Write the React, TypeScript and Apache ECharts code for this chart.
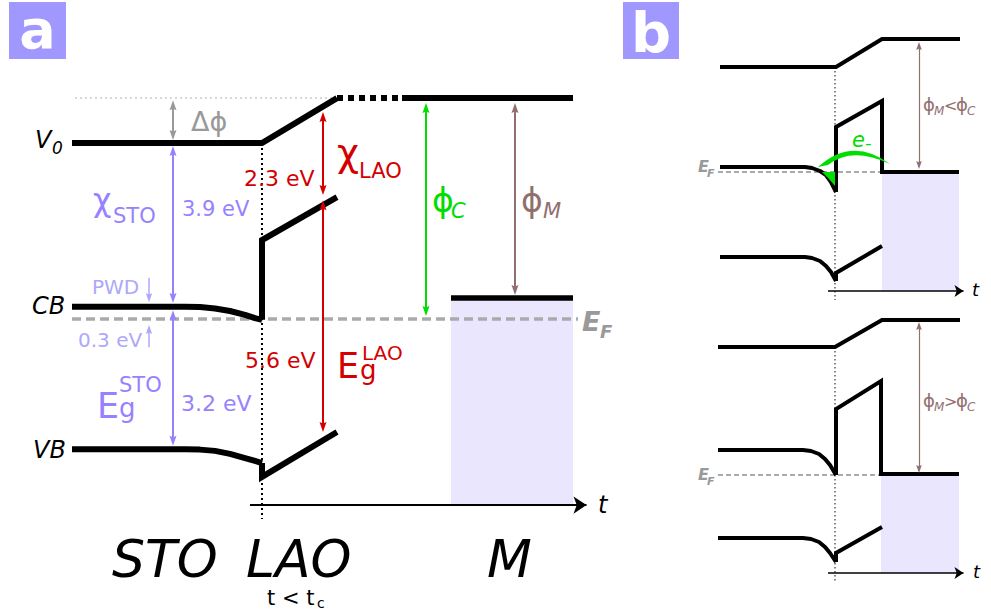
import React, { useEffect, useRef } from "react";
import * as echarts from "echarts";

// ================= DATA =================
// Energies in eV relative to E_F ; positions along the growth direction (arbitrary units)

// ---- Panel a ----
const aVacuumRef = [[75, 5.26], [335, 5.26]];
const aVacuumSTO_LAO = [[72, 4.19], [262, 4.19], [337, 5.26]];
const aVacuumGap = [[337, 5.26], [400, 5.26]];
const aVacuumM = [[402, 5.26], [573, 5.26]];
const aCB_STO = [[72, 0.29], [185, 0.29], [200, 0.285], [215, 0.25], [230, 0.19], [245, 0.1], [255, 0.02], [262, -0.02]];
const aCB_LAO = [[262, -0.02], [262, 1.88], [337, 2.9]];
const aVB_STO = [[72, -3.1], [185, -3.1], [200, -3.11], [215, -3.14], [230, -3.21], [245, -3.31], [255, -3.38], [262, -3.43]];
const aVB_LAO = [[262, -3.43], [262, -3.76], [337, -2.69]];
const aFermi = [[72, 0], [578, 0]];
const aMetalLevel = [[451, 0.5], [573, 0.5]];
const aInterface = [[262, 4.19], [262, -4.76]];
const aTAxis = [[250, -4.43], [593, -4.43]];
const aMetalFill = [[451, 0.5], [573, -4.43]];
// arrows: [position, tip start, tip end]
const aArrowDeltaPhi = [173, 5.21, 4.26];
const aArrowChiSTO = [173, 4.12, 0.38];
const aArrowEgSTO = [173, 0.21, -3.02];
const aArrowPWD = [149, 0.98, 0.4];
const aArrowPWD2 = [149, -0.67, -0.14];
const aArrowChiLAO = [323, 4.93, 2.95];
const aArrowEgLAO = [323, 2.83, -2.69];
const aArrowPhiC = [426, 5.14, 0.07];
const aArrowPhiM = [515, 5.14, 0.57];

// ---- Panel b, upper (phi_M < phi_C) ----
const b1Vacuum = [[720, 4.2], [836, 4.2], [882, 5.32], [960, 5.32]];
const b1CB_STO = [[720, 0.2], [805, 0.2], [812, 0.16], [820, 0.04], [826, -0.12], [831, -0.4], [836, -0.8]];
const b1CB_LAO_M = [[836, -0.8], [836, 1.8], [882, 2.84], [882, 0], [959, 0]];
const b1VB_STO = [[720, -3.4], [805, -3.4], [812, -3.44], [820, -3.56], [826, -3.76], [831, -4.0], [836, -4.36]];
const b1VB_LAO = [[836, -4.36], [836, -4.04], [882, -2.96]];
const b1Fermi = [[718, 0], [882, 0]];
const b1Interface = [[835, 4.2], [835, -5.12]];
const b1TAxis = [[828, -4.76], [968, -4.76]];
const b1MetalFill = [[882, 0], [959, -4.76]];
const b1ArrowPhi = [919, 5.2, 0.12];

// ---- Panel b, lower (phi_M > phi_C) ----
const b2Vacuum = [[718, 5.12], [835, 5.12], [882, 6.2], [960, 6.2]];
const b2CB_STO = [[718, 1.0], [803, 1.0], [811, 0.96], [819, 0.84], [825, 0.64], [830, 0.4], [836, 0]];
const b2CB_LAO_M = [[836, 0], [836, 2.64], [881, 3.76], [881, 0.04], [959, 0.04]];
const b2VB_STO = [[718, -2.52], [803, -2.52], [811, -2.56], [819, -2.68], [825, -2.88], [830, -3.12], [836, -3.48]];
const b2VB_LAO = [[836, -3.48], [836, -3.12], [882, -2.08]];
const b2Fermi = [[718, 0], [881, 0]];
const b2Interface = [[835, 5.12], [835, -4.28]];
const b2TAxis = [[828, -3.92], [968, -3.92]];
const b2MetalFill = [[881, 0.04], [959, -3.92]];
const b2ArrowPhi = [919, 6.12, 0.08];

// ================= STYLE / LAYOUT =================
const FONT = "DejaVu Sans";
const PURPLE = "#9682ff";
const LPURPLE = "#aea8fb";
const RED = "#d40000";
const GREEN = "#00dd00";
const BROWN = "#916f6f";
const GRAY = "#999999";
const DASHGRAY = "#aaaaaa";
const SHADE = "#e9e6fd";
const BOX = "#a097ff";
const HEAD = "path://M3.5,0L7,10L3.5,8.5L0,10Z";

const GRIDS = [
  { top: 4, height: 609, min: -7, max: 7.5 },
  { top: 22, height: 300, min: -6, max: 6 },
  { top: 315, height: 300, min: -5.6, max: 6.4 },
];
const ppe = (g: number) => GRIDS[g].height / (GRIDS[g].max - GRIDS[g].min);

echarts.graphic.registerShape(
  "greenArc",
  echarts.graphic.extendPath("M 818 167 Q 852 136 890 164 Q 852 146 828 165 Z", {})
);

function band(data: number[][], g: number, o: any = {}) {
  return {
    type: "line",
    xAxisIndex: g,
    yAxisIndex: g,
    data,
    symbol: "none",
    showSymbol: false,
    clip: false,
    silent: true,
    smooth: false,
    z: o.z ?? 3,
    lineStyle: {
      color: o.color ?? "#000",
      width: o.width ?? 6,
      type: o.type ?? "solid",
      cap: "butt",
      join: o.join ?? "miter",
    },
  };
}

function arrowItem(a: number[], g: number, both: boolean, len: number) {
  const [x, y1, y2] = a;
  const inset = len / 2 / ppe(g);
  const dir = Math.sign(y2 - y1);
  return [
    { coord: [x, both ? y1 + dir * inset : y1], symbol: both ? HEAD : "none", symbolKeepAspect: true },
    { coord: [x, y2 - dir * inset], symbol: HEAD, symbolKeepAspect: true },
  ];
}

function arrows(g: number, color: string, width: number, size: number, items: any[]) {
  return {
    type: "line",
    xAxisIndex: g,
    yAxisIndex: g,
    data: [],
    silent: true,
    z: 4,
    markLine: {
      silent: true,
      animation: false,
      symbol: [HEAD, HEAD],
      symbolSize: size,
      symbolKeepAspect: true,
      label: { show: false },
      lineStyle: { color, width, type: "solid" },
      emphasis: { disabled: true },
      data: items,
    },
  };
}

function hAxisArrow(pts: number[][], g: number, width: number, size: number) {
  const [[x1, y], [x2]] = pts;
  return {
    type: "line",
    xAxisIndex: g,
    yAxisIndex: g,
    data: [],
    silent: true,
    z: 4,
    markLine: {
      silent: true,
      animation: false,
      symbol: ["none", "arrow"],
      symbolSize: size,
      label: { show: false },
      lineStyle: { color: "#000", width, type: "solid" },
      emphasis: { disabled: true },
      data: [[{ coord: [x1, y] }, { coord: [x2 - size / 2, y] }]],
    },
  };
}

function shade(rect: number[][], g: number) {
  return {
    type: "line",
    xAxisIndex: g,
    yAxisIndex: g,
    data: [],
    silent: true,
    z: 1,
    markArea: {
      silent: true,
      itemStyle: { color: SHADE },
      label: { show: false },
      data: [[{ coord: rect[0] }, { coord: rect[1] }]],
    },
  };
}

function T(text: string, x: number, base: number, fs: number, fill: string, o: any = {}) {
  return {
    type: "text",
    x,
    y: base - 0.346 * fs,
    silent: true,
    z: 10,
    style: {
      text,
      fill,
      fontSize: fs,
      fontFamily: FONT,
      fontStyle: o.italic ? "italic" : "normal",
      fontWeight: o.bold ? "bold" : "normal",
      textAlign: o.align ?? "left",
      verticalAlign: "middle",
      textVerticalAlign: "middle",
    },
  };
}

export default function App() {
  const ref = useRef<HTMLDivElement>(null);
  useEffect(() => {
    document.body.style.margin = "0";
    const chart = echarts.init(ref.current!, null, { renderer: "svg" });
    const thinDot = [2, 3];
    const series: any[] = [
      // ---------- panel a ----------
      shade(aMetalFill, 0),
      band(aVacuumRef, 0, { color: "#cccccc", width: 1.5, type: [2, 3], z: 2 }),
      band(aFermi, 0, { color: DASHGRAY, width: 3.5, type: [9, 5], z: 2 }),
      band(aInterface, 0, { color: "#000", width: 2, type: thinDot, z: 2 }),
      band(aVacuumSTO_LAO, 0, {}),
      band(aVacuumGap, 0, { type: [6, 5] }),
      band(aVacuumM, 0, {}),
      band(aCB_STO, 0, { join: "round" }),
      band(aCB_LAO, 0, {}),
      band(aVB_STO, 0, { join: "round" }),
      band(aVB_LAO, 0, {}),
      band(aMetalLevel, 0, { width: 5.5 }),
      hAxisArrow(aTAxis, 0, 2, 13),
      arrows(0, GRAY, 2, 10, [arrowItem(aArrowDeltaPhi, 0, true, 10)]),
      arrows(0, PURPLE, 2, 10, [
        arrowItem(aArrowChiSTO, 0, true, 10),
        arrowItem(aArrowEgSTO, 0, true, 10),
      ]),
      arrows(0, LPURPLE, 1.5, 9, [
        arrowItem(aArrowPWD, 0, false, 9),
        arrowItem(aArrowPWD2, 0, false, 9),
      ]),
      arrows(0, RED, 2, 10, [
        arrowItem(aArrowChiLAO, 0, true, 10),
        arrowItem(aArrowEgLAO, 0, true, 10),
      ]),
      arrows(0, GREEN, 2, 10, [arrowItem(aArrowPhiC, 0, true, 10)]),
      arrows(0, BROWN, 2, 10, [arrowItem(aArrowPhiM, 0, true, 10)]),
      // ---------- panel b upper ----------
      shade(b1MetalFill, 1),
      band(b1Fermi, 1, { color: DASHGRAY, width: 2, type: [5, 3], z: 2 }),
      band(b1Interface, 1, { color: "#333", width: 1.2, type: [1.5, 2.5], z: 2 }),
      band(b1Vacuum, 1, { width: 4 }),
      band(b1CB_STO, 1, { width: 4, join: "round" }),
      band(b1CB_LAO_M, 1, { width: 4 }),
      band(b1VB_STO, 1, { width: 4, join: "round" }),
      band(b1VB_LAO, 1, { width: 4 }),
      hAxisArrow(b1TAxis, 1, 1.5, 9),
      arrows(1, BROWN, 1.2, 8, [arrowItem(b1ArrowPhi, 1, true, 8)]),
      // ---------- panel b lower ----------
      shade(b2MetalFill, 2),
      band(b2Fermi, 2, { color: DASHGRAY, width: 2, type: [5, 3], z: 2 }),
      band(b2Interface, 2, { color: "#333", width: 1.2, type: [1.5, 2.5], z: 2 }),
      band(b2Vacuum, 2, { width: 4 }),
      band(b2CB_STO, 2, { width: 4, join: "round" }),
      band(b2CB_LAO_M, 2, { width: 4 }),
      band(b2VB_STO, 2, { width: 4, join: "round" }),
      band(b2VB_LAO, 2, { width: 4 }),
      hAxisArrow(b2TAxis, 2, 1.5, 9),
      arrows(2, BROWN, 1.2, 8, [arrowItem(b2ArrowPhi, 2, true, 8)]),
    ];

    const graphic: any[] = [
      // panel labels
      { type: "rect", shape: { x: 9, y: 2, width: 57, height: 57 }, style: { fill: BOX }, silent: true },
      { type: "rect", shape: { x: 623, y: 2, width: 56, height: 57 }, style: { fill: BOX }, silent: true },
      T("a", 37.5, 48, 54, "#fff", { bold: true, align: "center" }),
      T("b", 651, 52, 56, "#fff", { bold: true, align: "center" }),
      // panel a: level names
      T("V", 35, 148, 24, "#000", { italic: true }),
      T("0", 52, 154, 17, "#000", { italic: true }),
      T("CB", 32, 314, 24, "#000", { italic: true }),
      T("VB", 33, 458, 24, "#000", { italic: true }),
      // panel a: annotations
      T("Δϕ", 191, 131, 27, GRAY),
      T("χ", 93, 211, 32, PURPLE),
      T("STO", 113, 223, 21, PURPLE),
      T("3.9 eV", 182, 216, 21, PURPLE),
      T("PWD", 92, 294, 20, LPURPLE),
      T("0.3 eV", 78, 347, 20, LPURPLE),
      T("E", 97, 418, 35, PURPLE),
      T("STO", 119, 392, 21, PURPLE),
      T("g", 119, 417, 26, PURPLE),
      T("3.2 eV", 181, 411, 22, PURPLE),
      T("2.3 eV", 244, 186, 22, RED),
      T("χ", 337, 166, 38, RED),
      T("LAO", 359, 178, 21, RED),
      T("5.6 eV", 245, 368, 22, RED),
      T("E", 337, 378, 35, RED),
      T("LAO", 362, 360, 20, RED),
      T("g", 360, 379, 26, RED),
      T("ϕ", 432, 212, 33, GREEN),
      T("C", 451, 218, 21, GREEN, { italic: true }),
      T("ϕ", 521, 212, 33, BROWN),
      T("M", 543, 218, 21, BROWN, { italic: true }),
      T("E", 582, 331, 27, GRAY, { italic: true, bold: true }),
      T("F", 600, 338, 18, GRAY, { italic: true, bold: true }),
      T("t", 598, 513, 24, "#000", { italic: true }),
      T("STO", 112, 577, 52, "#000", { italic: true }),
      T("LAO", 246, 577, 52, "#000", { italic: true }),
      T("M", 487, 577, 52, "#000", { italic: true }),
      T("t < t", 267, 605, 21, "#000"),
      T("c", 317, 608, 14, "#000"),
      // panel b upper
      T("E", 698, 172, 16, GRAY, { italic: true, bold: true }),
      T("F", 707, 177, 11, GRAY, { italic: true, bold: true }),
      T("e", 852, 147, 21, GREEN, { italic: true }),
      T("-", 865, 149, 18, GREEN, { italic: true }),
      T("ϕ", 923, 111, 18, BROWN),
      T("M", 934, 115, 12, BROWN, { italic: true }),
      T("<", 944, 111, 16, BROWN),
      T("ϕ", 956, 111, 18, BROWN),
      T("C", 967, 115, 12, BROWN, { italic: true }),
      T("t", 972, 296, 18, "#000", { italic: true }),
      // panel b lower
      T("E", 698, 480, 16, GRAY, { italic: true, bold: true }),
      T("F", 707, 485, 11, GRAY, { italic: true, bold: true }),
      T("ϕ", 923, 407, 18, BROWN),
      T("M", 934, 411, 12, BROWN, { italic: true }),
      T(">", 944, 407, 16, BROWN),
      T("ϕ", 956, 407, 18, BROWN),
      T("C", 967, 411, 12, BROWN, { italic: true }),
      T("t", 973, 578, 18, "#000", { italic: true }),
      // electron transfer (panel b upper)
      { type: "greenArc", x: 0, y: 0, silent: true, z: 9, style: { fill: GREEN } },
      {
        type: "polygon",
        silent: true,
        z: 9,
        shape: { points: [[822, 172], [835, 172], [835, 186], [829, 179]] },
        style: { fill: GREEN },
      },
    ];

    chart.setOption({
      animation: false,
      backgroundColor: "#fff",
      grid: GRIDS.map((g) => ({ left: 0, width: 991, top: g.top, height: g.height })),
      xAxis: GRIDS.map((_, i) => ({ type: "value", gridIndex: i, min: 0, max: 991, show: false })),
      yAxis: GRIDS.map((g, i) => ({ type: "value", gridIndex: i, min: g.min, max: g.max, show: false })),
      series,
      graphic,
    });
    return () => chart.dispose();
  }, []);
  return (
    <div
      ref={ref}
      style={{ position: "absolute", left: 0, top: 0, width: 991, height: 615 }}
    />
  );
}
